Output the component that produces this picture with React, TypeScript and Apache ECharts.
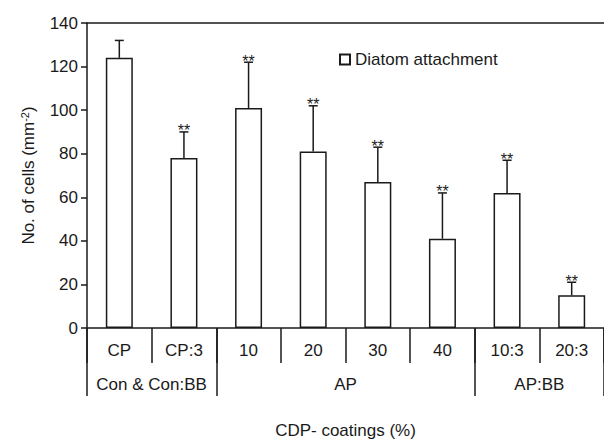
import React, { useEffect, useRef } from "react";
import * as echarts from "echarts";

const categories = ["CP", "CP:3", "10", "20", "30", "40", "10:3", "20:3"];
const meanValues = [124, 78, 101, 81, 67, 41, 62, 15];
const errorTops = [132, 90, 122, 102, 83, 62, 77, 21];
const stars = ["", "**", "**", "**", "**", "**", "**", "**"];
const groupNames = ["Con & Con:BB", "AP", "AP:BB"];
const groupBounds = [0, 2, 6, 8];
const groupCenters = [1, 4, 7];
const yTicks = [0, 20, 40, 60, 80, 100, 120, 140];

const FONT = "Liberation Sans";
const INK = "#1a1a1a";

export default function App() {
  const ref = useRef<HTMLDivElement>(null);
  useEffect(() => {
    const chart = echarts.init(ref.current!, null, { renderer: "svg" });
    const option: any = {
      animation: false,
      backgroundColor: "#ffffff",
      textStyle: { fontFamily: FONT, color: INK },
      legend: {
        data: ["Diatom attachment"],
        left: 334,
        top: 46,
        icon: "rect",
        itemWidth: 10,
        itemHeight: 10,
        textStyle: { fontFamily: FONT, fontSize: 17, color: INK },
      },
      grid: { left: 87, top: 23, width: 523, height: 309 },
      xAxis: [
        {
          type: "category",
          data: categories,
          position: "bottom",
          axisLine: { show: true, lineStyle: { color: INK, width: 1.5 } },
          axisTick: { show: true, length: 35, interval: 0, lineStyle: { color: INK, width: 1.5 } },
          axisLabel: { interval: 0, margin: 14, fontFamily: FONT, fontSize: 17, color: INK },
          splitLine: { show: false },
        },
        {
          type: "value",
          min: 0,
          max: 8,
          position: "bottom",
          name: "CDP- coatings (%)",
          nameLocation: "middle",
          nameGap: 94,
          nameTextStyle: { fontFamily: FONT, fontSize: 17, color: INK },
          axisLine: { show: false },
          axisTick: { show: true, length: 68, customValues: groupBounds, lineStyle: { color: INK, width: 1.5 } },
          axisLabel: {
            show: true,
            margin: 48,
            customValues: groupCenters,
            fontFamily: FONT,
            fontSize: 17,
            color: INK,
            formatter: (v: number) => groupNames[groupCenters.indexOf(v)] ?? "",
          },
          splitLine: { show: false },
        },
        {
          type: "value",
          min: 0,
          max: 1,
          position: "top",
          axisLine: { show: true, onZero: false, lineStyle: { color: INK, width: 1.5 } },
          axisTick: { show: false },
          axisLabel: { show: false },
          splitLine: { show: false },
        },
      ],
      yAxis: {
        type: "value",
        min: yTicks[0],
        max: yTicks[yTicks.length - 1],
        interval: 20,
        name: "No. of cells (mm{sup|-2})",
        nameLocation: "middle",
        nameGap: 50,
        nameTextStyle: {
          fontFamily: FONT,
          fontSize: 17,
          color: INK,
          rich: { sup: { fontFamily: FONT, fontSize: 11, color: INK, verticalAlign: "top", padding: [0, 0, 7, 0] } },
        },
        axisLine: { show: true, onZero: false, lineStyle: { color: INK, width: 1.5 } },
        axisTick: { show: true, length: 6, lineStyle: { color: INK, width: 1.5 } },
        axisLabel: { margin: 9, fontFamily: FONT, fontSize: 17, color: INK },
        splitLine: { show: false },
      },
      series: [
        {
          name: "Diatom attachment",
          type: "bar",
          xAxisIndex: 0,
          data: meanValues,
          barWidth: 27,
          itemStyle: { color: "#ffffff", borderColor: INK, borderWidth: 1.5 },
          z: 2,
        },
        {
          type: "custom",
          xAxisIndex: 0,
          data: meanValues.map((m, i) => [i, m, errorTops[i]]),
          encode: { x: 0, y: 2 },
          z: 3,
          renderItem: (params: any, api: any) => {
            const i = api.value(0);
            const p0 = api.coord([i, api.value(1)]);
            const p1 = api.coord([i, api.value(2)]);
            const cap = 4.5;
            return {
              type: "group",
              children: [
                {
                  type: "line",
                  shape: { x1: p0[0], y1: p0[1], x2: p1[0], y2: p1[1] },
                  style: { stroke: INK, lineWidth: 1.5 },
                },
                {
                  type: "line",
                  shape: { x1: p1[0] - cap, y1: p1[1], x2: p1[0] + cap, y2: p1[1] },
                  style: { stroke: INK, lineWidth: 1.5 },
                },
                {
                  type: "text",
                  x: p1[0],
                  y: p1[1] + 7,
                  style: {
                    text: stars[i],
                    fontFamily: FONT,
                    fontSize: 16,
                    fill: INK,
                    align: "center",
                    verticalAlign: "bottom",
                  },
                },
              ],
            };
          },
        },
      ],
    };
    chart.setOption(option);
    return () => chart.dispose();
  }, []);
  return (
    <div
      ref={ref}
      style={{ position: "fixed", left: 0, top: 0, width: 604, height: 444, background: "#fff" }}
    />
  );
}
